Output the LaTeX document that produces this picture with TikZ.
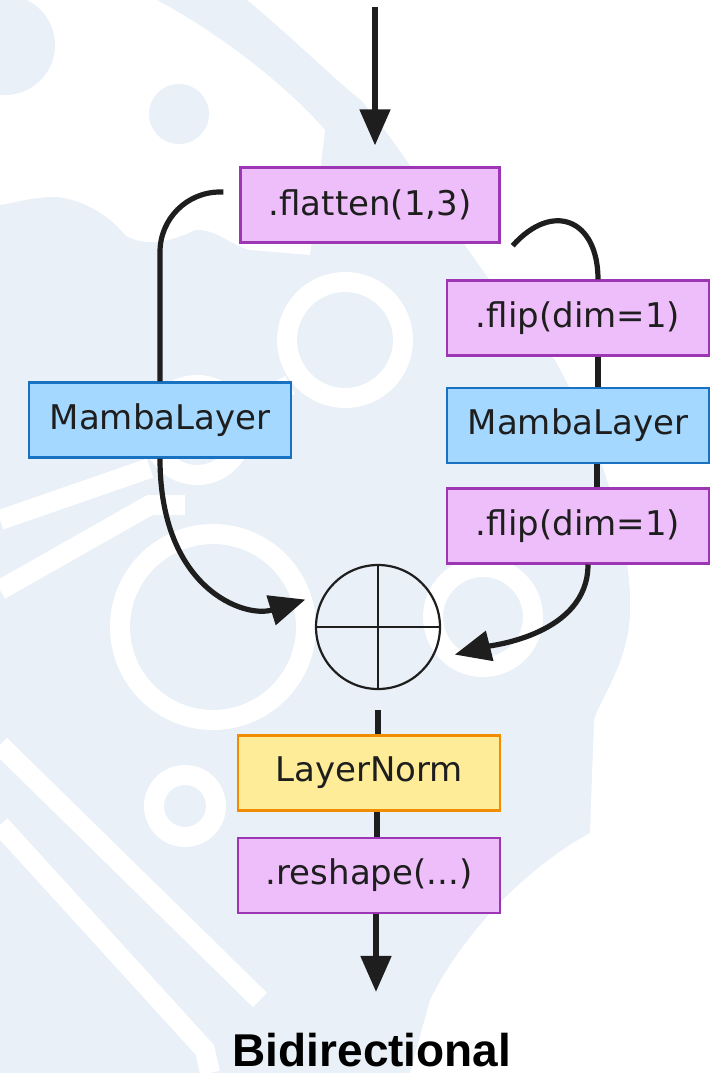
\documentclass[tikz,border=0pt]{standalone}
\usepackage{fontspec}
\setmainfont{DejaVu Sans}
\newfontfamily\titlefont{Liberation Sans}
\usepackage{tikz}
\usetikzlibrary{arrows.meta,positioning,calc}
\definecolor{fondoazul}{HTML}{E9F0F7}
\definecolor{lilaborde}{HTML}{9C36B5}
\definecolor{lilafondo}{HTML}{EEBEFA}
\definecolor{azulborde}{HTML}{1971C2}
\definecolor{azulfondo}{HTML}{A5D8FF}
\definecolor{amarilloborde}{HTML}{F08C00}
\definecolor{amarillofondo}{HTML}{FFEC99}
\definecolor{trazo}{HTML}{1E1E1E}

\begin{document}
\begin{tikzpicture}[x=0.5pt, y=-0.5pt, node distance=12pt,
    box/.style={rectangle, draw=lilaborde, fill=lilafondo, line width=1.2pt,
                minimum width=131pt, minimum height=37.5pt, inner sep=0pt,
                text=trazo, font=\fontsize{17}{20}\selectfont},
    sumnode/.style={circle, draw=trazo, line width=1.1pt, minimum size=62pt, inner sep=0pt},
    link/.style={line width=2.6pt, color=trazo},
    arrow/.style={-{Triangle[length=18pt, width=15pt]}, line width=2.6pt, color=trazo},
    marca/.style={white, line width=10pt}
  ]
    \useasboundingbox (0,0) rectangle (722,1073);
    \clip (0,0) rectangle (722,1073);

    \fill[fondoazul] (0,0) rectangle (722,1073);
    \fill[white] (0,0) -- (157,0) .. controls (230,40) and (290,90) .. (325,130) -- (310,255)
      -- (250,250) .. controls (230,245) and (215,228) .. (195,230)
      .. controls (165,245) and (140,245) .. (125,235)
      .. controls (110,215) and (80,198) .. (55,197)
      .. controls (30,197) and (15,203) .. (0,205) -- cycle;
    \fill[fondoazul] (5,45) circle[radius=50];
    \fill[fondoazul] (179,114) circle[radius=30];
    \fill[white] (247,0) .. controls (290,35) and (335,80) .. (361,100)
      .. controls (420,170) and (480,280) .. (555,360)
      .. controls (600,440) and (640,560) .. (628,633)
      .. controls (620,675) and (600,700) .. (594,720) -- (590,833)
      .. controls (540,860) and (470,920) .. (430,1000) -- (410,1073)
      -- (722,1073) -- (722,0) -- cycle;
    \draw[marca] (213,627) circle[radius=93];
    \draw[marca] (483,617) circle[radius=50];
    \draw[marca] (185,806) circle[radius=31];
    \draw[marca] (345,340) circle[radius=58];
    \draw[marca] (197,430) circle[radius=45];
    \draw[marca] (0,745) -- (260,1000);
    \draw[marca] (0,825) -- (205,1050) -- (210,1073);
    \draw[marca] (0,520) -- (150,468);
    \draw[marca] (0,590) -- (150,505) -- (185,505);
    \draw[marca] (290,385) -- (240,412);

    \node[box, minimum width=129.5pt] (flatten) at (370,205) {.flatten(1,3)};
    \node[box, draw=azulborde, fill=azulfondo] (mambaL) at (160,420) {MambaLayer};
    \node[box] (flipA) at (578,318) {.flip(dim=1)};
    \node[box, draw=azulborde, fill=azulfondo, below=15pt of flipA] (mambaR) {MambaLayer};
    \node[box, below=11.5pt of mambaR] (flipB) {.flip(dim=1)};
    \node[sumnode] (sum) at (378,627) {};
    \node[box, draw=amarilloborde, fill=amarillofondo, below=22pt of sum, xshift=-4.5pt] (norm) {LayerNorm};
    \node[box, below=12.5pt of norm] (reshape) {.reshape(...)};
    \node[font=\titlefont\bfseries\fontsize{23}{26}\selectfont, anchor=base] (title) at (372,1066) {Bidirectional};
    \coordinate (in) at (375,7);
    \coordinate[below=39pt of reshape, xshift=3.5pt] (out);

    \draw[line width=1pt, trazo] (sum.north) -- (sum.south);
    \draw[line width=1pt, trazo] (sum.west) -- (sum.east);

    \draw[arrow, shorten >=10.5pt] (in) -- (in |- flatten.north);
    \draw[link, rounded corners=30pt] ([shift={(-8pt,6.5pt)}]flatten.west) -| (mambaL.north);
    \draw[arrow, shorten >=10pt] (mambaL.south) .. controls +(0,130) and +(-80,25) .. (sum.148);
    \draw[link] ([shift={(6pt,-1pt)}]flatten.south east) .. controls +(40,-45) and +(0,-60) .. ([xshift=10pt]flipA.north);
    \draw[link] ([xshift=10pt]flipA.south) -- ([xshift=10pt]mambaR.north);
    \draw[link] ([xshift=9.5pt]mambaR.south) -- ([xshift=9.5pt]flipB.north);
    \draw[arrow, shorten >=12pt] ([xshift=5pt]flipB.south) .. controls +(0,70) and +(60,-15) .. (sum.-32);
    \draw[link] ([yshift=-10pt]sum.south) -- (sum.south |- norm.north);
    \draw[link] ([xshift=4pt]norm.south) -- ([xshift=4pt]reshape.north);
    \draw[arrow] ([xshift=3.5pt]reshape.south) -- (out);
  \end{tikzpicture}
\end{document}
